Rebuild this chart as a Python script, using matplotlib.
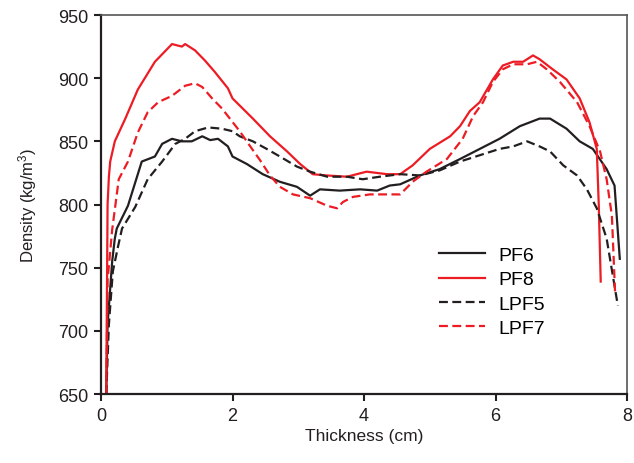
import matplotlib
matplotlib.use('Agg')
import matplotlib.pyplot as plt

plt.rcParams['font.family'] = ['Liberation Sans', 'DejaVu Sans']
plt.rcParams['mathtext.default'] = 'regular'

RED = '#ED1C24'
BLACK = '#231F20'

# PF6 (black solid)
pf6_x = [0.08, 0.10, 0.17, 0.21, 0.24, 0.41, 0.62, 0.82, 0.93, 1.08, 1.23, 1.38, 1.54,
         1.66, 1.78, 1.93, 2.0, 2.22, 2.46, 2.72, 2.98, 3.18, 3.33, 3.63, 3.94, 4.2,
         4.39, 4.55, 4.85, 5.15, 5.46, 5.76, 6.06, 6.37, 6.67, 6.83, 7.08, 7.28, 7.48,
         7.69, 7.81, 7.89]
pf6_y = [650, 705, 755, 773, 781, 799, 834, 838, 848, 852, 850, 850, 854,
         851, 852, 846, 838, 832, 824, 818, 814, 807, 812, 811, 812, 811,
         815, 816, 823, 828, 836, 844, 852, 862, 868, 868, 860, 850, 844,
         828, 815, 757]

# PF8 (red solid)
pf8_x = [0.08, 0.10, 0.12, 0.14, 0.21, 0.37, 0.56, 0.82, 1.08, 1.23, 1.28, 1.43, 1.58,
         1.73, 1.93, 2.0, 2.31, 2.57, 2.83, 3.03, 3.22, 3.43, 3.74, 4.04, 4.35, 4.55,
         4.74, 5.0, 5.31, 5.46, 5.61, 5.76, 5.96, 6.11, 6.27, 6.42, 6.57, 6.67, 6.87,
         7.08, 7.28, 7.43, 7.54, 7.57, 7.60]
pf8_y = [650, 800, 822, 834, 850, 868, 891, 913, 927, 925, 927, 922, 914,
         905, 892, 884, 868, 854, 842, 832, 824, 823, 822, 826, 824, 824,
         831, 844, 854, 862, 874, 881, 899, 910, 913, 913, 918, 915, 907,
         899, 884, 865, 844, 800, 739]

# LPF5 (black dashed)
lpf5_x = [0.08, 0.12, 0.18, 0.26, 0.32, 0.52, 0.71, 0.93, 1.13, 1.28, 1.43, 1.63, 1.84,
          2.0, 2.11, 2.31, 2.52, 2.72, 2.98, 3.18, 3.44, 3.74, 3.98, 4.24, 4.55, 4.85,
          5.15, 5.46, 5.76, 6.06, 6.27, 6.48, 6.67, 6.83, 7.03, 7.24, 7.39, 7.54, 7.69,
          7.86]
lpf5_y = [650, 705, 747, 767, 781, 798, 820, 834, 848, 852, 858, 861, 860,
          858, 854, 850, 844, 838, 830, 826, 822, 822, 820, 822, 824, 823,
          827, 834, 839, 844, 846, 850, 846, 842, 831, 823, 812, 797, 773,
          720]

# LPF7 (red dashed)
lpf7_x = [0.08, 0.10, 0.17, 0.27, 0.41, 0.56, 0.71, 0.87, 1.08, 1.28, 1.43, 1.54, 1.69,
          1.84, 1.96, 2.11, 2.27, 2.42, 2.57, 2.72, 2.92, 3.18, 3.44, 3.59, 3.68, 3.83,
          4.09, 4.35, 4.55, 4.74, 4.95, 5.26, 5.5, 5.66, 5.81, 5.96, 6.11, 6.27, 6.48,
          6.63, 6.78, 6.98, 7.24, 7.43, 7.59, 7.69, 7.77, 7.82]
lpf7_y = [650, 740, 780, 820, 834, 857, 873, 881, 886, 894, 896, 893, 884,
          876, 868, 858, 846, 835, 823, 814, 808, 805, 799, 797, 802, 806,
          808, 808, 808, 818, 826, 836, 852, 870, 881, 897, 907, 911, 911,
          913, 907, 897, 881, 862, 842, 820, 791, 728]

fig = plt.figure(figsize=(6.34, 4.64), dpi=100)
ax = fig.add_axes([0.1593, 0.1487, 0.8297, 0.8168])

lw = 1.6
ax.plot(pf6_x, pf6_y, color=BLACK, lw=lw, label='PF6')
ax.plot(pf8_x, pf8_y, color=RED, lw=lw, label='PF8')
ax.plot(lpf5_x, lpf5_y, color=BLACK, lw=lw, dashes=(4, 2), label='LPF5')
ax.plot(lpf7_x, lpf7_y, color=RED, lw=lw, dashes=(4, 2), label='LPF7')

ax.set_xlim(0, 8)
ax.set_ylim(650, 950)
ax.set_xticks([0, 2, 4, 6, 8])
ax.set_yticks(range(650, 951, 50))

for s in ['left', 'bottom']:
    ax.spines[s].set_linewidth(1.6)
    ax.spines[s].set_color(BLACK)
for s in ['top', 'right']:
    ax.spines[s].set_linewidth(1.2)
    ax.spines[s].set_color('#555555')

ax.tick_params(direction='out', length=5, width=1.5, labelsize=13,
               color=BLACK, labelcolor=BLACK, pad=4)
ax.tick_params(top=False, right=False)

ax.set_xlabel('Thickness (cm)', fontsize=12.5, color=BLACK, labelpad=3)
ax.set_ylabel('Density (kg/m$^{3}$)', fontsize=12, color=BLACK, labelpad=14)

ax.legend(loc='upper left', bbox_to_anchor=(0.627, 0.41), frameon=False,
          fontsize=14, handlelength=2.4, labelspacing=0.35, handletextpad=0.7,
          borderaxespad=0)

fig.savefig('out.png', dpi=100)
